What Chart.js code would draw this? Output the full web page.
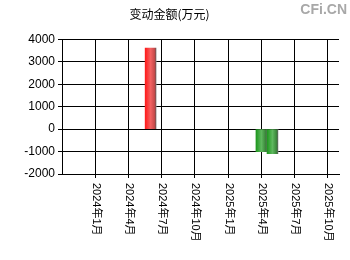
<!DOCTYPE html>
<html lang="zh-CN">
<head>
  <meta charset="UTF-8" />
  <title>变动金额(万元)</title>
  <script src="https://cdn.jsdelivr.net/npm/chart.js"></script>
  <style>
    html, body {
      margin: 0;
      padding: 0;
      background: #fff;
    }

    #wrap {
      width: 350px;
      height: 260px;
      position: relative;
    }
  </style>
</head>
<body>
  <div id="wrap">
    <canvas id="myChart" width="350" height="260"></canvas>
  </div>

  <script>
    // 数据
    const periods = ['2024-06', '2025-04', '2025-05'];
    const amounts = [3610, -1000, -1090];
    const tickLabels = ['2024年1月', '2024年4月', '2024年7月', '2024年10月', '2025年1月', '2025年4月', '2025年7月', '2025年10月'];
    const yTicks = [-2000, -1000, 0, 1000, 2000, 3000, 4000];

    // 以 2024年1月 为 0 的月份序号
    const toMonth = s => {
      const [y, m] = s.split('-').map(Number);
      return (y - 2024) * 12 + (m - 1);
    };
    const points = periods.map((p, i) => ({ x: toMonth(p), y: amounts[i] }));

    Chart.defaults.font.family = "'Liberation Sans', 'Noto Sans CJK SC', sans-serif";
    Chart.defaults.color = '#000';

    const barFill = ctx => {
      const chart = ctx.chart;
      const xs = chart.scales.x;
      const up = ctx.raw && ctx.raw.y >= 0;
      if (!xs || !ctx.raw) return '#f33';
      const cx = xs.getPixelForValue(ctx.raw.x);
      if (!isFinite(cx)) return up ? '#f33' : '#3a3';
      const g = chart.ctx.createLinearGradient(cx - 5, 0, cx + 6, 0);
      if (up) {
        g.addColorStop(0, '#ff1f1f');
        g.addColorStop(0.45, '#f26262');
        g.addColorStop(0.8, '#c84a4a');
        g.addColorStop(0.9, '#8a5050');
        g.addColorStop(1, '#9a9a9a');
      } else {
        g.addColorStop(0, '#239a23');
        g.addColorStop(0.45, '#5fb85f');
        g.addColorStop(0.8, '#3b8a3b');
        g.addColorStop(0.9, '#4a6a4a');
        g.addColorStop(1, '#a0a0a0');
      }
      return g;
    };

    // 竖排日期标签与水印
    const extras = {
      id: 'extras',
      afterDraw(chart) {
        const c = chart.ctx;
        const xs = chart.scales.x;
        const area = chart.chartArea;
        c.save();
        c.fillStyle = '#000';
        c.font = "11px 'Liberation Sans', 'Noto Sans CJK SC', sans-serif";
        c.textAlign = 'left';
        c.textBaseline = 'middle';
        tickLabels.forEach((lab, i) => {
          const x = xs.getPixelForValue(i * 3);
          c.save();
          c.translate(x + 0.5, area.bottom + 9);
          c.rotate(Math.PI / 2);
          c.fillText(lab, 0, 0);
          c.restore();
        });
        c.font = "bold 14px 'Liberation Sans', sans-serif";
        c.fillStyle = '#a8a8a8';
        c.textAlign = 'right';
        c.textBaseline = 'top';
        c.fillText('CFi.CN', 347, 3);
        c.restore();
      }
    };

    new Chart(document.getElementById('myChart'), {
      type: 'bar',
      data: {
        datasets: [{
          data: points,
          backgroundColor: barFill,
          borderWidth: 0,
          barThickness: 11
        }]
      },
      options: {
        responsive: false,
        animation: false,
        layout: { padding: { left: 0, right: 11, top: 0, bottom: 0 } },
        plugins: {
          legend: { display: false },
          tooltip: { enabled: false },
          title: {
            display: true,
            text: '变动金额(万元)',
            font: { size: 12, weight: 'normal', family: "'Noto Sans CJK SC', sans-serif" },
            color: '#000',
            padding: { top: 7, bottom: 18 }
          }
        },
        scales: {
          x: {
            type: 'linear',
            min: -3,
            max: 22,
            offset: false,
            afterBuildTicks: s => {
              s.ticks = tickLabels.map((_, i) => ({ value: i * 3 }));
            },
            afterFit: s => { s.height = 86; },
            ticks: { display: false },
            grid: {
              offset: false,
              color: '#000',
              lineWidth: 1,
              borderDash: [4, 2],
              tickBorderDash: [],
              tickLength: 4,
              tickColor: '#000'
            },
            border: { display: true, color: '#000', width: 1 }
          },
          y: {
            min: -2000,
            max: 4000,
            afterBuildTicks: s => {
              s.ticks = yTicks.map(v => ({ value: v }));
            },
            afterFit: s => { s.width = 62; },
            ticks: {
              font: { size: 12 },
              padding: 3,
              color: '#000',
              callback: v => String(v)
            },
            grid: {
              color: '#000',
              lineWidth: 1,
              borderDash: [4, 2],
              tickBorderDash: [],
              tickLength: 4,
              tickColor: '#000'
            },
            border: { display: true, color: '#000', width: 1 }
          }
        }
      },
      plugins: [extras]
    });
  </script>
</body>
</html>
